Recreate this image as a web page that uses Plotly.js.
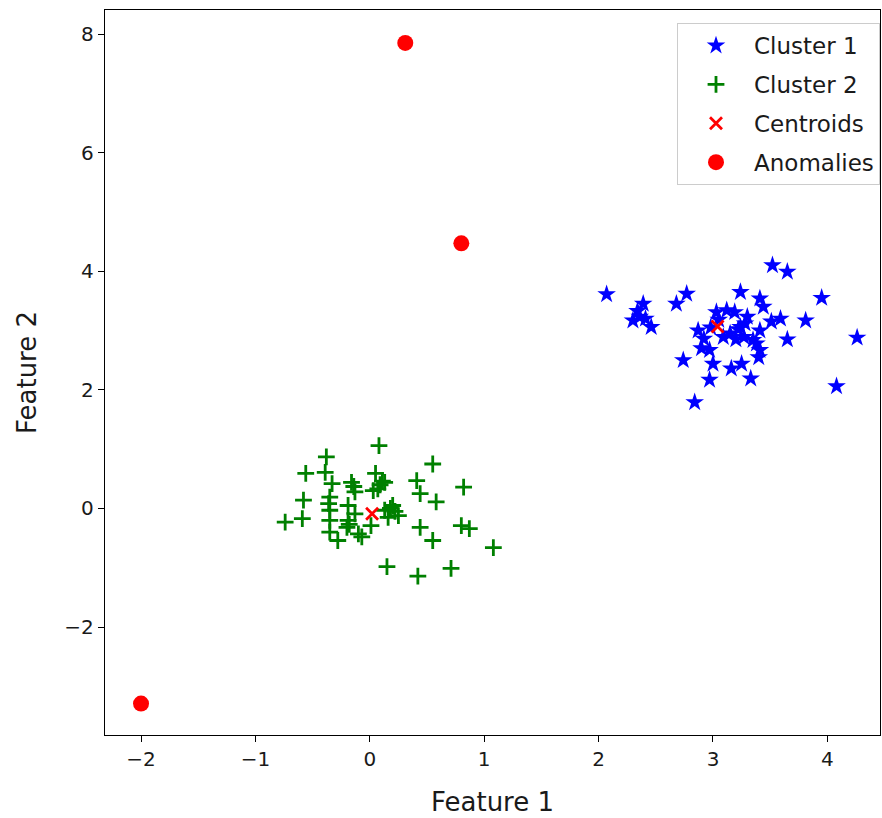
<!DOCTYPE html>
<html>
<head>
<meta charset="utf-8">
<script src="https://cdn.plot.ly/plotly-3.0.1.min.js"></script>
<style>html,body{margin:0;padding:0;background:#fff;}#chart{width:882px;height:818px;}</style>
</head>
<body>
<div id="chart"></div>
<script>
const cluster1X = [2.07,2.39,2.30,2.36,2.46,2.34,2.41,2.68,2.77,3.52,3.65,3.24,3.41,3.44,3.95,3.81,3.59,3.51,4.26,3.65,4.08,2.84,2.74,2.97,3.00,3.16,3.25,3.33,3.40,3.41,3.38,2.87,2.92,2.90,2.97,3.03,3.12,3.19,3.30,3.24,3.15,3.09,3.27,3.35,3.41,3.20,2.98,3.28,3.05,3.22];
const cluster1Y = [3.61,3.45,3.17,3.23,3.06,3.33,3.20,3.45,3.62,4.10,3.99,3.65,3.54,3.40,3.55,3.17,3.20,3.15,2.88,2.85,2.06,1.79,2.50,2.17,2.44,2.36,2.44,2.19,2.55,2.67,2.78,3.00,2.86,2.70,2.67,3.31,3.34,3.31,3.23,3.06,2.95,2.89,2.89,2.84,3.00,2.85,3.05,3.12,3.18,3.02];
const cluster2X = [0.08,-0.38,-0.39,-0.56,0.55,0.82,0.41,0.44,0.58,-0.58,-0.59,-0.74,-0.33,-0.35,-0.35,-0.35,-0.35,-0.28,-0.16,-0.13,-0.19,-0.13,-0.19,-0.20,-0.10,-0.07,0.05,0.03,0.13,0.09,0.01,0.13,0.20,0.25,0.16,0.44,0.55,0.80,0.87,1.08,0.15,0.42,0.71,-0.18,0.11,0.07,0.18,-0.36,0.22,-0.14];
const cluster2Y = [1.06,0.87,0.61,0.59,0.75,0.36,0.47,0.25,0.11,0.14,-0.17,-0.23,0.42,0.19,-0.03,-0.20,-0.40,-0.54,0.44,0.28,0.05,-0.09,-0.20,-0.32,-0.43,-0.48,0.59,0.30,0.44,0.40,-0.29,-0.03,0.05,-0.12,-0.15,-0.32,-0.54,-0.29,-0.34,-0.66,-0.98,-1.14,-1.01,-0.27,0.46,0.33,0.00,0.08,-0.05,0.37];
const centroidsX = [3.04, 0.02];
const centroidsY = [3.07, -0.09];
const anomaliesX = [0.31, 0.80, -2.00];
const anomaliesY = [7.85, 4.47, -3.29];

const traces = [
  {x: cluster1X, y: cluster1Y, mode: 'markers', type: 'scatter', name: 'Cluster 1', legendgroup: 'a',
   marker: {symbol: 'star', color: '#0000ff', size: 14, line: {width: 0}}},
  {x: cluster2X, y: cluster2Y, mode: 'markers', type: 'scatter', name: 'Cluster 2', legendgroup: 'b',
   marker: {symbol: 'cross-thin', color: '#008000', size: 12, line: {width: 2.8, color: '#008000'}}},
  {x: centroidsX, y: centroidsY, mode: 'markers', type: 'scatter', name: 'Centroids', legendgroup: 'c',
   marker: {symbol: 'x-thin', color: '#ff0000', size: 12, line: {width: 2.8, color: '#ff0000'}}},
  {x: anomaliesX, y: anomaliesY, mode: 'markers', type: 'scatter', name: 'Anomalies', legendgroup: 'd',
   marker: {symbol: 'circle', color: '#ff0000', size: 16, line: {width: 0}}}
];

const layout = {
  width: 882, height: 818,
  margin: {l: 105, r: 2, t: 10, b: 83},
  paper_bgcolor: '#fff', plot_bgcolor: '#fff',
  font: {family: 'DejaVu Sans, sans-serif', color: '#1a1a1a', size: 14},
  showlegend: true,
  legend: {x: 1, y: 0.982, xanchor: 'right', yanchor: 'top', bgcolor: '#fff',
           bordercolor: '#cccccc', borderwidth: 1, font: {size: 23, color: '#1a1a1a'},
           traceorder: 'grouped', tracegroupgap: 6, itemsizing: 'trace', itemwidth: 66},
  xaxis: {range: [-2.315, 4.46], showgrid: false, zeroline: false, showline: true, mirror: true,
          linecolor: '#000', linewidth: 1.2, ticks: 'outside', ticklen: 6, tickcolor: '#000',
          tickvals: [-2,-1,0,1,2,3,4], tickfont: {size: 20, color: '#1a1a1a'},
          title: {text: 'Feature 1', font: {size: 26, color: '#1a1a1a'}, standoff: 22}},
  yaxis: {range: [-3.82, 8.405], showgrid: false, zeroline: false, showline: true, mirror: true,
          linecolor: '#000', linewidth: 1.2, ticks: 'outside', ticklen: 6, tickcolor: '#000',
          tickvals: [-2,0,2,4,6,8], tickfont: {size: 20, color: '#1a1a1a'},
          title: {text: 'Feature 2', font: {size: 26, color: '#1a1a1a'}, standoff: 20}}
};

Plotly.newPlot('chart', traces, layout, {displayModeBar: false, staticPlot: true});
</script>
</body>
</html>
